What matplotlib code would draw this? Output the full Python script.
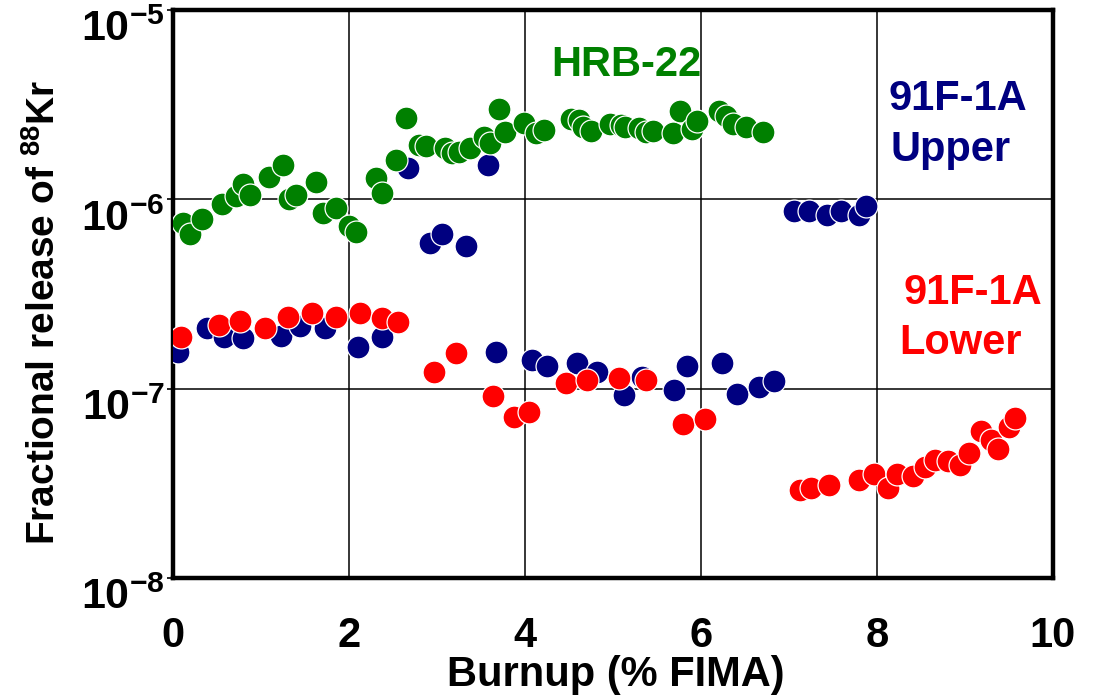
import matplotlib
matplotlib.use("Agg")
import matplotlib.pyplot as plt
from matplotlib.ticker import FixedLocator, FixedFormatter, NullLocator

plt.rcParams['font.family'] = ['Liberation Sans', 'DejaVu Sans']
plt.rcParams['font.weight'] = 'bold'
plt.rcParams['mathtext.fontset'] = 'custom'
plt.rcParams['mathtext.rm'] = 'Liberation Sans:bold'
plt.rcParams['mathtext.bf'] = 'Liberation Sans:bold'
plt.rcParams['mathtext.default'] = 'bf'

# HRB-22 (green)
hrb_x = [0.11, 0.19, 0.33, 0.56, 0.71, 0.79, 0.87, 1.09, 1.25, 1.32, 1.40, 1.63, 1.70,
         1.85, 2.00, 2.08, 2.31, 2.38, 2.53, 2.65, 2.79, 2.88, 3.09, 3.17, 3.25, 3.38,
         3.53, 3.60, 3.70, 3.77, 3.99, 4.13, 4.22, 4.52, 4.61, 4.66, 4.75, 4.97, 5.09,
         5.14, 5.29, 5.37, 5.45, 5.68, 5.76, 5.90, 5.96, 6.21, 6.28, 6.36, 6.51, 6.70]
hrb_y = [0.75e-6, 0.66e-6, 0.79e-6, 0.94e-6, 1.04e-6, 1.20e-6, 1.05e-6, 1.31e-6, 1.52e-6,
         1.00e-6, 1.06e-6, 1.23e-6, 0.85e-6, 0.90e-6, 0.72e-6, 0.67e-6, 1.29e-6, 1.08e-6,
         1.62e-6, 2.70e-6, 1.94e-6, 1.92e-6, 1.86e-6, 1.75e-6, 1.77e-6, 1.86e-6, 2.13e-6,
         1.98e-6, 3.00e-6, 2.26e-6, 2.52e-6, 2.24e-6, 2.33e-6, 2.66e-6, 2.63e-6, 2.42e-6,
         2.30e-6, 2.49e-6, 2.48e-6, 2.42e-6, 2.37e-6, 2.28e-6, 2.30e-6, 2.24e-6, 2.93e-6,
         2.35e-6, 2.60e-6, 2.93e-6, 2.77e-6, 2.49e-6, 2.42e-6, 2.28e-6]

# 91F-1A Upper (navy)
upper_x = [0.06, 0.39, 0.58, 0.80, 1.23, 1.44, 1.73, 2.10, 2.37, 2.67, 2.92, 3.06, 3.33,
           3.58, 3.67, 4.08, 4.25, 4.59, 4.82, 5.13, 5.33, 5.69, 5.84, 6.24, 6.41, 6.66,
           6.83, 7.06, 7.23, 7.43, 7.59, 7.80, 7.87]
upper_y = [1.57e-7, 2.10e-7, 1.88e-7, 1.85e-7, 1.90e-7, 2.15e-7, 2.10e-7, 1.66e-7, 1.88e-7,
           1.46e-6, 5.9e-7, 6.6e-7, 5.7e-7, 1.52e-6, 1.56e-7, 1.41e-7, 1.31e-7, 1.36e-7,
           1.22e-7, 9.3e-8, 1.15e-7, 9.8e-8, 1.32e-7, 1.37e-7, 9.4e-8, 1.02e-7, 1.10e-7,
           8.7e-7, 8.7e-7, 8.3e-7, 8.7e-7, 8.3e-7, 9.2e-7]

# 91F-1A Lower (red)
lower_x = [0.09, 0.52, 0.76, 1.04, 1.31, 1.58, 1.85, 2.13, 2.37, 2.56, 2.96, 3.22, 3.64,
           3.87, 4.05, 4.47, 4.70, 5.07, 5.37, 5.79, 6.05, 7.12, 7.25, 7.45, 7.80, 7.97,
           8.12, 8.23, 8.41, 8.54, 8.66, 8.81, 8.94, 9.05, 9.18, 9.29, 9.37, 9.50, 9.57]
lower_y = [1.88e-7, 2.16e-7, 2.29e-7, 2.10e-7, 2.40e-7, 2.50e-7, 2.40e-7, 2.50e-7, 2.35e-7,
           2.24e-7, 1.22e-7, 1.55e-7, 9.1e-8, 7.1e-8, 7.5e-8, 1.07e-7, 1.11e-7, 1.14e-7,
           1.11e-7, 6.5e-8, 6.9e-8, 2.9e-8, 3.0e-8, 3.1e-8, 3.28e-8, 3.55e-8, 2.98e-8,
           3.55e-8, 3.45e-8, 3.86e-8, 4.2e-8, 4.17e-8, 3.93e-8, 4.6e-8, 6.0e-8, 5.35e-8,
           4.8e-8, 6.3e-8, 7.0e-8]

x_ticks = [0, 2, 4, 6, 8, 10]
y_exps = [-8, -7, -6, -5]

fig = plt.figure(figsize=(10.98, 6.96), dpi=100)
ax = fig.add_axes([0.1576, 0.1695, 0.8014, 0.8161])

mk = dict(marker='o', linestyle='none', markersize=16.5, markeredgecolor='white',
          markeredgewidth=0.9)
ax.plot(upper_x, upper_y, color='#000080', zorder=3, **mk)
ax.plot(lower_x, lower_y, color='#FF0000', zorder=4, **mk)
ax.plot(hrb_x, hrb_y, color='#008000', zorder=5, **mk)

ax.set_yscale('log')
ax.set_xlim(0, 10)
ax.set_ylim(1e-8, 1e-5)
ax.xaxis.set_major_locator(FixedLocator(x_ticks))
ax.xaxis.set_major_formatter(FixedFormatter([str(t) for t in x_ticks]))
ax.yaxis.set_major_locator(FixedLocator([10.0 ** e for e in y_exps]))
ax.yaxis.set_major_formatter(FixedFormatter([r'$10^{%d}$' % e for e in y_exps]))
ax.yaxis.set_minor_locator(NullLocator())
ax.grid(True, color='black', linewidth=1.1, zorder=1)
ax.set_axisbelow(True)
for s in ax.spines.values():
    s.set_linewidth(3.2)
ax.tick_params(axis='x', length=0, pad=27, labelsize=30)
ax.tick_params(axis='y', length=4, width=1.2, direction='out', pad=2, labelsize=31)
for lab in ax.get_xticklabels():
    lab.set_fontweight('bold')
for lab in ax.get_yticklabels():
    lab.set_fontweight('bold')
    lab.set_verticalalignment('top')

fig.text(0.0501, 0.5517, r'Fractional release of $^{88}$Kr', rotation=90, fontsize=28,
         fontweight='bold', ha='center', va='baseline', rotation_mode='anchor')
fig.text(0.561, 0.0144, 'Burnup (% FIMA)', fontsize=30, fontweight='bold',
         ha='center', va='baseline')

ax.text(5.15, 10 ** -5.35, 'HRB-22', color='#008000', fontsize=30, fontweight='bold',
        ha='center', va='baseline')
ax.text(8.13, 10 ** -5.53, '91F-1A', color='#000080', fontsize=30, fontweight='bold',
        ha='left', va='baseline')
ax.text(8.15, 10 ** -5.80, 'Upper', color='#000080', fontsize=30, fontweight='bold',
        ha='left', va='baseline')
ax.text(8.30, 10 ** -6.553, '91F-1A', color='#FF0000', fontsize=30, fontweight='bold',
        ha='left', va='baseline')
ax.text(8.255, 10 ** -6.816, 'Lower', color='#FF0000', fontsize=30, fontweight='bold',
        ha='left', va='baseline')

fig.savefig('out.png', dpi=100)
